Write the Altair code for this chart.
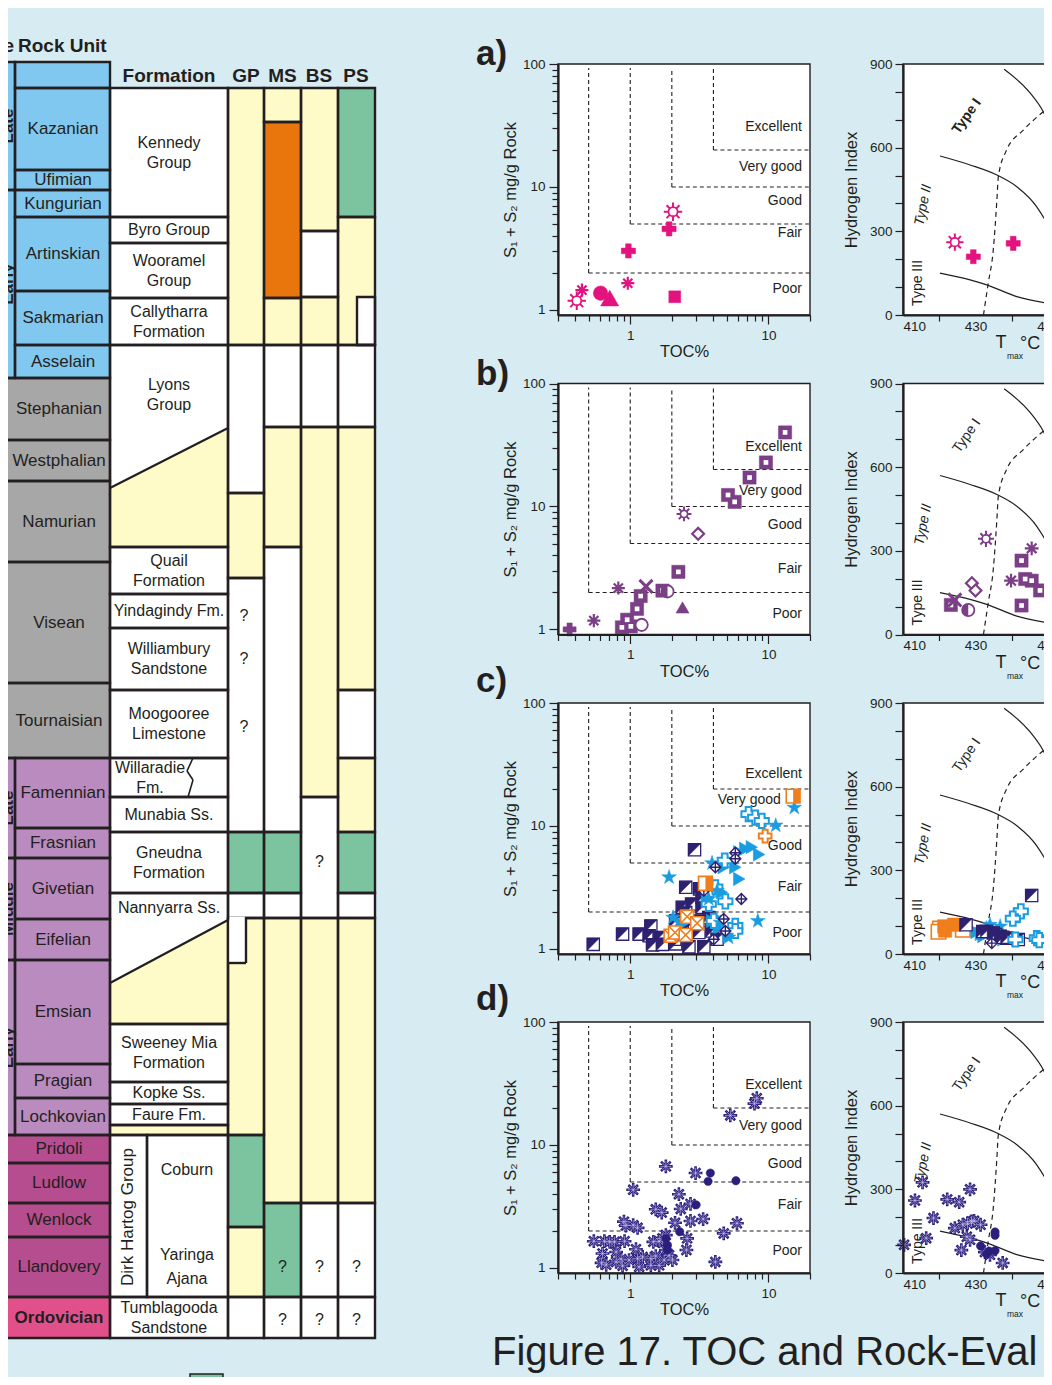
import altair as alt
import pandas as pd

W, H = 1036, 1369
BG = "#d6ecf2"
INK = "#231f20"
YEL, GRN, ORG, WHT = "#fffbc9", "#7cc49f", "#e8760c", "#ffffff"
PCOL = {"P": "#80c8ef", "C": "#a7a7a7", "D": "#b98bbf", "S": "#b64d8e", "O": "#e2508b"}
KCOL = {"Y": YEL, "G": GRN, "O": ORG, "W": WHT}
PINK, PURP, NAVY, SKY, ORNG, NAVYD = "#e2137e", "#7b3f86", "#2e2170", "#1a9de0", "#ef7e1c", "#2b1f7d"
FONT = "Liberation Sans, Arial, Helvetica, sans-serif"

# ---------------- stratigraphic column (row limits, figure units top->bottom) ----------------
EPOCH_NAMES = ["Late", "Early", "Late", "Middle", "Early"]
EPOCH_TOP = [62, 190, 758, 858, 960]
EPOCH_BOT = [190, 378, 858, 960, 1135]
EPOCH_PERIOD = "PPDDD"

STAGE_NAMES = ["", "Kazanian", "Ufimian", "Kungurian", "Artinskian", "Sakmarian", "Asselain",
               "Stephanian", "Westphalian", "Namurian", "Visean", "Tournaisian",
               "Famennian", "Frasnian", "Givetian", "Eifelian", "Emsian", "Pragian", "Lochkovian",
               "Pridoli", "Ludlow", "Wenlock", "Llandovery", "Ordovician"]
STAGE_TOP = [62, 88, 170, 190, 217, 291, 345, 378, 440, 481, 562, 683, 758, 828, 858, 919,
             960, 1064, 1098, 1135, 1163, 1203, 1237, 1297]
STAGE_BOT = [88, 170, 190, 217, 291, 345, 378, 440, 481, 562, 683, 758, 828, 858, 919, 960,
             1064, 1098, 1135, 1163, 1203, 1237, 1297, 1338]
STAGE_PERIOD = "PPPPPPPCCCCCDDDDDDDSSSSO"

FORM_NAMES = ["Kennedy\nGroup", "Byro Group", "Wooramel\nGroup", "Callytharra\nFormation",
              "Lyons\nGroup", "Quail\nFormation", "Yindagindy Fm.", "Williambury\nSandstone",
              "Moogooree\nLimestone", "Willaradie\nFm.", "Munabia Ss.", "Gneudna\nFormation",
              "Nannyarra Ss.", "Sweeney Mia\nFormation", "Kopke Ss.", "Faure Fm.", "",
              "Tumblagooda\nSandstone"]
FORM_TOP = [88, 217, 243, 298, 345, 547, 594, 628, 690, 758, 797, 832, 893, 1024, 1082, 1104, 1125, 1297]
FORM_BOT = [217, 243, 298, 345, 547, 594, 628, 690, 758, 797, 832, 893, 1024, 1082, 1104, 1125, 1135, 1338]
FORM_KIND = "WWWWYWWWWWWWYWWWYW"
DIRK_NAMES = ["Coburn", "Yaringa", "Ajana"]

GP_TOP = [88, 345, 493, 578, 832, 893, 918, 1135, 1227, 1297]
GP_BOT = [345, 493, 578, 832, 893, 918, 1135, 1227, 1297, 1338]
GP_KIND = "YWYWGWYGYW"
MS_TOP = [88, 122, 298, 345, 427, 547, 832, 893, 918, 1203, 1297]
MS_BOT = [122, 298, 345, 427, 547, 832, 893, 918, 1203, 1297, 1338]
MS_KIND = "YOYWYWGWYGW"
BS_TOP = [88, 231, 297, 345, 427, 797, 918, 1203, 1297]
BS_BOT = [231, 297, 345, 427, 797, 918, 1203, 1297, 1338]
BS_KIND = "YWYWYWYWW"
PS_TOP = [88, 217, 345, 427, 690, 758, 832, 893, 918, 1203, 1297]
PS_BOT = [217, 345, 427, 690, 758, 832, 893, 918, 1203, 1297, 1338]
PS_KIND = "GYWYWYGWYWW"
QMARK_COL = ["GP", "GP", "GP", "MS", "MS", "BS", "BS", "BS", "PS", "PS"]
QMARK_ROW = [616, 659, 727, 1267, 1320, 862, 1267, 1320, 1267, 1320]

# ---------------- Rock-Eval data ----------------
GRADES = ["Excellent", "Very good", "Good", "Fair", "Poor"]
GRADE_S = [[30.6, 14.5, 7.7, 4.2, 1.48], [30.6, 13.4, 7.06, 3.13, 1.34],
           [26.5, 16.4, 6.9, 3.17, 1.34], [30.8, 14.3, 7.06, 3.26, 1.38]]
GRADE_TOC = [[17.5] * 5, [17.5] * 5, [17.5, 12.3, 17.5, 17.5, 17.5], [17.5] * 5]
LIMIT_TOC = [0.5, 1, 2, 4]
LIMIT_S = [2, 5, 10, 20]

TYPE1_T = [437.9, 445.0, 448.7, 451.1, 454.0]
TYPE1_HI = [881, 797, 729, 663, 590]
TYPE2_T = [420.2, 428.5, 435.9, 441.4, 446.9, 450.6, 453.0]
TYPE2_HI = [570, 538, 502, 460, 388, 305, 230]
TYPE3_T = [420.2, 428.5, 433.1, 441.4, 451.1, 458.0]
TYPE3_HI = [150, 126, 108, 66, 40, 30]
MATUR_T = [432.2, 433.5, 434.9, 435.9, 436.3, 438.6, 443.2, 448.7, 451.1, 455.0]
MATUR_HI = [0, 113, 233, 412, 496, 592, 663, 729, 753, 790]

A_PLUS = [[1.91, 4.56], [0.97, 3.02]]
A_SUN = [[2.04, 6.3], [0.41, 1.19]]
A_AST = [[0.96, 1.65], [0.447, 1.45]]
A_SQ = [[2.1, 1.28]]
A_DOT = [[0.61, 1.37]]
A_TRI = [[0.71, 1.25]]
A_HI_PLUS = [[429.4, 209], [440.4, 257]]
A_HI_SUN = [[424.3, 261]]

B_SQ = [[13.2, 40], [9.6, 22.8], [7.3, 17.2], [5.1, 12.4], [5.7, 10.9], [2.23, 2.94], [1.71, 2.07],
        [1.19, 1.87], [1.12, 1.47], [0.95, 1.2], [0.87, 1.04], [1.01, 1.06]]
B_SUN = [[2.45, 8.7]]
B_DIA = [[3.1, 6.0]]
B_HALF = [[1.86, 2.04]]
B_X = [[1.30, 2.24]]
B_AST = [[0.82, 2.17], [0.545, 1.18]]
B_TRI = [[2.39, 1.51]]
B_RING = [[1.21, 1.09]]
B_PLUS = [[0.364, 1.0]]
B_HI_SQ = [[442.7, 265], [443.7, 199], [445.5, 193], [447.8, 158], [442.7, 104], [423.2, 106]]
B_HI_AST = [[445.5, 309], [439.8, 193]]
B_HI_SUN = [[432.9, 343]]
B_HI_DIA = [[429, 184], [430, 158]]
B_HI_X = [[424.3, 124]]
B_HI_HALF = [[428, 88]]

C_NSQ = [[2.92, 6.41], [2.52, 3.17], [3.17, 3.08], [2.78, 2.32], [3.31, 2.18], [2.52, 1.98],
         [2.13, 1.69], [3.14, 1.69], [3.7, 1.8], [2.66, 1.54], [1.41, 1.54], [0.88, 1.32],
         [1.16, 1.32], [1.37, 1.28], [1.62, 1.24], [2.38, 1.4], [3.14, 1.36], [3.91, 1.4],
         [4.25, 1.2], [1.45, 1.08], [1.71, 1.09], [2.66, 1.04], [3.41, 1.04], [2.13, 1.1],
         [2.38, 2.18], [3.31, 2.63], [2.1, 1.2], [0.54, 1.09]]
C_STAR = [[15.4, 14.1], [11.3, 10.1], [3.91, 4.99], [1.91, 3.83], [8.38, 1.69], [2.04, 1.8],
          [5.15, 1.24], [3.7, 2.55], [4.49, 1.64], [4.25, 2.98]]
C_TRI = [[6.8, 6.53], [7.59, 6.73], [8.57, 5.87], [6.15, 6.13], [4.75, 4.62], [5.76, 4.62],
         [6.15, 3.71], [4.25, 3.27], [4.61, 2.89], [3.6, 2.55], [3.91, 1.69], [4.61, 1.69],
         [4.37, 1.48], [5.15, 1.28], [2.38, 1.59]]
C_BCROSS = [[7.18, 12.5], [8.02, 11.7], [8.95, 11.0], [4.83, 5.24], [4.88, 2.44], [4.13, 3.17],
            [5.76, 1.54], [5.76, 1.4], [3.7, 2.32], [4.02, 1.69]]
C_NDIA = [[5.76, 6.06], [5.76, 5.41], [6.37, 2.55], [4.75, 1.75], [4.02, 1.2], [4.88, 1.4],
          [3.41, 2.98], [4.13, 4.62]]
C_OSQX = [[2.58, 1.83], [1.96, 1.28], [2.11, 1.36], [2.52, 1.3], [3.05, 1.62]]
C_OHALF = [[15.1, 17.5], [3.5, 3.42]]
C_OCROSS = [[9.47, 8.28]]
C_HI_OSQ = [[420.2, 91], [426.5, 87], [419.8, 80]]
C_HI_OFILL = [[421.6, 84], [421.4, 99], [424.1, 105]]
C_HI_NSQ = [[427.4, 105], [445.5, 210], [433.0, 81], [434.9, 75], [436.8, 64], [438.6, 57],
            [441.8, 52], [432.0, 81], [435.5, 70], [437.5, 60]]
C_HI_BCROSS = [[441.4, 139], [442.5, 153], [440.3, 127], [446.9, 57], [447.6, 50], [441.0, 52]]
C_HI_STAR = [[434.0, 105], [436.8, 99], [433.0, 92]]
C_HI_TRI = [[430.3, 79], [432.2, 64], [437.7, 52], [440.0, 57], [431.5, 72]]
C_HI_NDIA = [[434.5, 39]]

D_AST = [[8.24, 24.0], [7.93, 21.7], [5.3, 17.4], [1.81, 6.7], [2.97, 5.91], [1.05, 4.32],
         [2.25, 3.98], [2.73, 3.32], [1.53, 3.0], [1.69, 2.82], [2.32, 3.02], [2.73, 2.41],
         [3.37, 2.5], [2.11, 2.33], [5.92, 2.31], [4.75, 1.91], [0.9, 2.38], [0.93, 2.21],
         [1.05, 2.23], [1.13, 2.12], [0.545, 1.65], [0.65, 1.65], [0.71, 1.63], [0.77, 1.63],
         [0.91, 1.65], [1.47, 1.63], [1.62, 1.65], [1.71, 1.74], [1.81, 1.85], [2.58, 1.74],
         [2.55, 1.4], [4.13, 1.12], [0.63, 1.31], [0.62, 1.1], [0.67, 1.06], [0.79, 1.35],
         [0.86, 1.18], [0.88, 1.04], [1.1, 1.42], [1.13, 1.19], [1.16, 1.02], [1.23, 1.23],
         [1.41, 1.19], [1.53, 1.25], [1.62, 1.05], [1.76, 1.16], [1.91, 1.27], [2.02, 1.16],
         [0.98, 1.16], [0.79, 1.12], [1.81, 1.4], [1.41, 1.05]]
D_DOT = [[3.8, 5.91], [3.66, 5.06], [5.82, 5.12], [3.0, 3.26], [2.28, 1.97], [1.81, 1.74],
         [1.86, 1.53], [1.86, 1.4]]
D_HI_AST = [[410.3, 101], [413.3, 260], [415.4, 325], [416.4, 125], [418.4, 197], [422.2, 264],
            [425.5, 254], [428.5, 300], [424.3, 161], [426.5, 173], [427.8, 178], [428.9, 185],
            [429.6, 187], [431.4, 173], [427.6, 130], [428.5, 119], [426.1, 82], [437.5, 36],
            [432.6, 75], [434.0, 65]]
D_HI_DOT = [[431.4, 97], [433.1, 68], [433.8, 78], [435.4, 80], [435.4, 135], [435.4, 147]]

# ---------------- layout ----------------
ROW_OFF = [0, 319.5, 639, 958]
LETTER_Y = [65, 385, 692, 1010]
COLX = {"GP": (228, 264), "MS": (264, 301), "BS": (301, 338), "PS": (338, 375)}
LINE_H = 20

AST8 = "M-1,0L1,0M0,-1L0,1M-0.7,-0.7L0.7,0.7M-0.7,0.7L0.7,-0.7"
STAR5 = ("M0,-1L0.225,-0.31L0.951,-0.309L0.363,0.118L0.588,0.809L0,0.382L-0.588,0.809"
         "L-0.363,0.118L-0.951,-0.309L-0.225,-0.31Z")
XMARK = "M-1,-1L1,1M-1,1L1,-1"
SQX = "M-1,-1L1,-1L1,1L-1,1ZM-1,-1L1,1M-1,1L1,-1"
DIAX = "M0,-1L1,0L0,1L-1,0ZM0,-1L0,1M-1,0L1,0"
UL_TRI = "M-1,-1L1,-1L-1,1Z"
R_HALF = "M0,-1L1,-1L1,1L0,1Z"
L_HALFC = "M0,-1A1,1 0 0 0 0,1Z"


def TX():
    return alt.Scale(domain=[0, 1052], range=[-8, 1044], nice=False, zero=False)


def TY():
    return alt.Scale(domain=[0, 1385], range=[-8, 1377], nice=False, zero=False)


def tenc(ch, **extra):
    return ch.encode(x=alt.X("x:Q", scale=TX(), axis=None), y=alt.Y("y:Q", scale=TY(), axis=None), **extra)


def ttext(rows, **mk):
    props = dict(font=FONT, color=INK, fontSize=17, baseline="middle", align="center",
                 lineBreak="\n", lineHeight=LINE_H)
    props.update(mk)
    fixed = []
    for x, y, t in rows:
        n = t.count("\n")
        fixed.append((x, y - n * props["lineHeight"] / 2, t))
    df = pd.DataFrame(fixed, columns=["x", "y", "t"])
    return tenc(alt.Chart(df).mark_text(**props), text="t:N")


# ---- table cells ----
cells = []
for t, b, p in zip(EPOCH_TOP, EPOCH_BOT, EPOCH_PERIOD):
    cells.append((-16, 15, t, b, PCOL[p]))
for t, b, p in zip(STAGE_TOP, STAGE_BOT, STAGE_PERIOD):
    cells.append((15 if p in "PD" else -16, 110, t, b, PCOL[p]))
for t, b, k in zip(FORM_TOP, FORM_BOT, FORM_KIND):
    cells.append((110, 228, t, b, KCOL[k]))
cells.append((110, 147, 1135, 1297, WHT))
cells.append((147, 228, 1135, 1297, WHT))
for key, tops, bots, kinds in [("GP", GP_TOP, GP_BOT, GP_KIND), ("MS", MS_TOP, MS_BOT, MS_KIND),
                               ("BS", BS_TOP, BS_BOT, BS_KIND), ("PS", PS_TOP, PS_BOT, PS_KIND)]:
    x0, x1 = COLX[key]
    for t, b, k in zip(tops, bots, kinds):
        cells.append((x0, x1, t, b, KCOL[k]))
cells.append((357, 375, 297, 345, WHT))
cell_df = pd.DataFrame(cells, columns=["x0", "x1", "top", "bot", "fill"])


def rect_layer(df, **mk):
    return alt.Chart(df).mark_rect(**mk).encode(
        x=alt.X("x0:Q", scale=TX(), axis=None), x2="x1:Q",
        y=alt.Y("top:Q", scale=TY(), axis=None), y2="bot:Q",
        fill=alt.Fill("fill:N", scale=None))


fills = rect_layer(cell_df, strokeWidth=0)
outlines = alt.Chart(cell_df).mark_rect(fillOpacity=0, stroke=INK, strokeWidth=2.4).encode(
    x=alt.X("x0:Q", scale=TX(), axis=None), x2="x1:Q",
    y=alt.Y("top:Q", scale=TY(), axis=None), y2="bot:Q")

wedge_df = pd.DataFrame({"x": [110, 228, 110, 228], "y": [345, 345, 893, 893],
                         "y2": [488, 428, 983, 920], "g": ["L", "L", "N", "N"]})
wedges = tenc(alt.Chart(wedge_df).mark_area(color=WHT, opacity=1), y2="y2:Q", detail="g:N")

notch_df = pd.DataFrame([(229.4, 245, 916.6, 962, WHT)], columns=["x0", "x1", "top", "bot", "fill"])
notch = rect_layer(notch_df, strokeWidth=0)

seg_df = pd.DataFrame([(110, 488, 228, 428, 2.2), (110, 983, 228, 920, 2.2),
                       (193, 758, 187, 771, 1.6), (187, 771, 193, 780, 1.6), (193, 780, 188, 797, 1.6),
                       (246, 917, 246, 963, 2.4), (228, 963, 246, 963, 2.4)],
                      columns=["x", "y", "x2", "y2", "w"])
segs = tenc(alt.Chart(seg_df).mark_rule(color=INK), x2="x2:Q", y2="y2:Q",
            strokeWidth=alt.StrokeWidth("w:Q", scale=None))

stage_txt = [((63 if p in "PD" else 59), (t + b) / 2, n)
             for n, t, b, p in zip(STAGE_NAMES, STAGE_TOP, STAGE_BOT, STAGE_PERIOD) if p != "O" and n]
ordo_txt = [(59, (t + b) / 2, n) for n, t, b, p in zip(STAGE_NAMES, STAGE_TOP, STAGE_BOT, STAGE_PERIOD) if p == "O"]
epoch_txt = [(8, (t + b) / 2, n) for n, t, b in zip(EPOCH_NAMES, EPOCH_TOP, EPOCH_BOT)]
form_txt = []
for i, (n, t, b) in enumerate(zip(FORM_NAMES, FORM_TOP, FORM_BOT)):
    if not n:
        continue
    x, y = 169, (t + b) / 2
    if i == 4:
        y = 394.5
    if i == 9:
        x, y = 150, 778
    if i == 12:
        y = 908
    form_txt.append((x, y, n))
dirk_txt = [(187, y, n) for y, n in zip([1170, 1255, 1279], DIRK_NAMES)]
q_txt = [((COLX[c][0] + COLX[c][1]) / 2 - (2 if c == "GP" else 0), y, "?") for c, y in zip(QMARK_COL, QMARK_ROW)]

table_layers = [
    fills, wedges, outlines, notch, segs,
    ttext(stage_txt, fontSize=17),
    ttext(ordo_txt, fontSize=17, fontWeight="bold"),
    ttext(epoch_txt, fontSize=17, fontWeight="bold", angle=270),
    ttext(form_txt, fontSize=16),
    ttext(dirk_txt, fontSize=16),
    ttext([(128, 1217, "Dirk Hartog Group")], fontSize=17, angle=270),
    ttext(q_txt, fontSize=16),
    ttext([(14, 52, "Age")], fontSize=19, fontWeight="bold", align="right", baseline="alphabetic"),
    ttext([(18, 52, "Rock Unit")], fontSize=19, fontWeight="bold", align="left", baseline="alphabetic"),
    ttext([(169, 82, "Formation"), (246, 82, "GP"), (282.5, 82, "MS"), (319, 82, "BS"), (356, 82, "PS")],
          fontSize=19, fontWeight="bold", baseline="alphabetic"),
    ttext([(476, y, l) for y, l in zip(LETTER_Y, ["a)", "b)", "c)", "d)"])],
          fontSize=35, fontWeight="bold", align="left", baseline="alphabetic"),
    ttext([(1001, 343 + o, "T") for o in ROW_OFF], fontSize=18),
    ttext([(1007, 356 + o, "max") for o in ROW_OFF], fontSize=8.5, align="left"),
    ttext([(1020, 344 + o, "°C") for o in ROW_OFF], fontSize=18, align="left"),
    ttext([(492, 1365, "Figure 17. TOC and Rock-Eval")], fontSize=40, align="left", baseline="alphabetic"),
    rect_layer(pd.DataFrame([(190, 223, 1374, 1400, GRN)], columns=["x0", "x1", "top", "bot", "fill"]),
               stroke=INK, strokeWidth=1.5),
    ttext([(233, 1390, "Oil &")], fontSize=17, align="left", baseline="alphabetic"),
]
table = alt.layer(*table_layers)

# ---------------- panels ----------------
AXBASE = dict(domainColor=INK, tickColor=INK, labelColor=INK, titleColor=INK, labelFont=FONT,
              titleFont=FONT, labelFontSize=13.5, titleFontSize=16.5, titleFontWeight="normal",
              grid=False, zindex=2, tickWidth=1.2, domainWidth=2.2)


def ax(**kw):
    d = dict(AXBASE)
    d.update(kw)
    return alt.Axis(**d)


def pts(data, sx, sy, **mk):
    df = pd.DataFrame(data, columns=["x", "y"])
    props = {"opacity": 1}
    props.update(mk)
    return alt.Chart(df).mark_point(**props).encode(
        x=alt.X("x:Q", scale=sx, axis=None), y=alt.Y("y:Q", scale=sy, axis=None))


def filled(d, sx, sy, shape, c, size, stroke=None, sw=0.5):
    return [pts(d, sx, sy, shape=shape, filled=True, fill=c, stroke=stroke or c, strokeWidth=sw, size=size)]


def hollow(d, sx, sy, shape, c, size, sw=1.8):
    return [pts(d, sx, sy, shape=shape, filled=True, fill=WHT, stroke=c, strokeWidth=sw, size=size)]


def lines_only(d, sx, sy, shape, c, size, sw=2.0):
    return [pts(d, sx, sy, shape=shape, filled=False, stroke=c, strokeWidth=sw, size=size)]


def sun(d, sx, sy, c, size=340):
    return lines_only(d, sx, sy, AST8, c, size, 2.0) + hollow(d, sx, sy, "circle", c, size * 0.24, 1.7)


def sq_center(d, sx, sy, c, size=175):
    return filled(d, sx, sy, "square", c, size) + filled(d, sx, sy, "square", WHT, 22, stroke=WHT, sw=0)


def half_circle(d, sx, sy, c, size=150):
    return hollow(d, sx, sy, "circle", c, size, 1.8) + filled(d, sx, sy, L_HALFC, c, size, sw=0)


def navy_sq(d, sx, sy, size=150):
    return hollow(d, sx, sy, "square", NAVY, size, 1.3) + filled(d, sx, sy, UL_TRI, NAVY, size, sw=0.5)


def orange_half(d, sx, sy, size=190):
    return hollow(d, sx, sy, "square", ORNG, size, 1.6) + filled(d, sx, sy, R_HALF, ORNG, size, sw=0)


def d_ast(d, sx, sy, size=190):
    return lines_only(d, sx, sy, AST8, NAVYD, size, 2.6) + lines_only(d, sx, sy, AST8, "#cfc9f2", size * 0.6, 0.6)


def left_panel(i, point_layers):
    o = ROW_OFF[i]
    sx = alt.Scale(type="log", domain=[0.3, 20], range=[550, 802], nice=False)
    sy = alt.Scale(type="log", domain=[0.91, 100], range=[307 + o, 56 + o], nice=False)
    box = pd.DataFrame({"x": [0.3], "x2": [20], "y": [0.91], "y2": [100]})
    frame = alt.Chart(box).mark_rect(fill=WHT, stroke=INK, strokeWidth=1.4).encode(
        x=alt.X("x:Q", scale=sx, axis=ax(orient="bottom", offset=307 + o - H, values=[1, 10], tickSize=9,
                                         labelPadding=4, format="d", title="TOC%", titlePadding=2)),
        x2="x2:Q",
        y=alt.Y("y:Q", scale=sy, axis=ax(orient="left", offset=-550, values=[1, 10, 100], tickSize=9,
                                         labelPadding=4, format="d", title="S₁ + S₂ mg/g Rock", titlePadding=4)),
        y2="y2:Q")
    minor = alt.Chart(box).mark_point(opacity=0).encode(
        x=alt.X("x:Q", scale=sx, axis=ax(orient="bottom", offset=307 + o - H,
                                         values=[0.3, 0.4, 0.5, 0.6, 0.7, 0.8, 0.9, 2, 3, 4, 5, 6, 7, 8, 9, 20],
                                         tickSize=6, labels=False, domain=False, title=None)),
        y=alt.Y("y:Q", scale=sy, axis=ax(orient="left", offset=-550,
                                         values=[2, 3, 4, 5, 6, 7, 8, 9, 20, 30, 40, 50, 60, 70, 80, 90],
                                         tickSize=6, labels=False, domain=False, title=None)))
    vd = pd.DataFrame({"x": LIMIT_TOC, "y": LIMIT_S, "y2": [93] * 4})
    hd = pd.DataFrame({"x": LIMIT_TOC, "x2": [20] * 4, "y": LIMIT_S})
    vdash = alt.Chart(vd).mark_rule(color=INK, strokeWidth=1.1, strokeDash=[4, 3]).encode(
        x=alt.X("x:Q", scale=sx, axis=None), y=alt.Y("y:Q", scale=sy, axis=None), y2="y2:Q")
    hdash = alt.Chart(hd).mark_rule(color=INK, strokeWidth=1.1, strokeDash=[4, 3]).encode(
        x=alt.X("x:Q", scale=sx, axis=None), x2="x2:Q", y=alt.Y("y:Q", scale=sy, axis=None))
    gd = pd.DataFrame({"x": GRADE_TOC[i], "y": GRADE_S[i], "t": GRADES})
    grades = alt.Chart(gd).mark_text(font=FONT, fontSize=14, color=INK, align="right", baseline="middle").encode(
        x=alt.X("x:Q", scale=sx, axis=None), y=alt.Y("y:Q", scale=sy, axis=None), text="t:N")
    return alt.layer(frame, minor, vdash, hdash, grades, *point_layers(sx, sy)).resolve_axis(
        x="independent", y="independent")


def hi_panel(i, point_layers, bold1=False):
    o = ROW_OFF[i]
    sx = alt.Scale(domain=[410, 470], range=[895, 1112.5], nice=False, zero=False)
    sy = alt.Scale(domain=[0, 900], range=[307 + o, 56 + o], nice=False, zero=False)
    box = pd.DataFrame({"x": [410], "x2": [470], "y": [0], "y2": [900]})
    frame = alt.Chart(box).mark_rect(fill=WHT, stroke=INK, strokeWidth=1.4).encode(
        x=alt.X("x:Q", scale=sx, axis=ax(orient="bottom", offset=307 + o - H, values=[410, 430, 450, 470],
                                         tickSize=0, labelPadding=4, format="d", title=None)),
        x2="x2:Q",
        y=alt.Y("y:Q", scale=sy, axis=ax(orient="left", offset=-895, values=list(range(0, 901, 100)),
                                         labelExpr="datum.value % 300 == 0 ? datum.label : ''",
                                         tickSize=8, labelPadding=3, format="d",
                                         title="Hydrogen Index", titlePadding=10)),
        y2="y2:Q")
    minor = alt.Chart(box).mark_point(opacity=0).encode(
        x=alt.X("x:Q", scale=sx, axis=ax(orient="bottom", offset=307 + o - H, values=[420, 440, 460],
                                         tickSize=6, labels=False, domain=False, title=None)),
        y=alt.Y("y:Q", scale=sy, axis=None))

    def curve(ts, his, dash=None):
        df = pd.DataFrame({"x": ts, "y": his})
        mk = dict(color=INK, strokeWidth=1.2, interpolate="monotone")
        if dash:
            mk["strokeDash"] = dash
        return alt.Chart(df).mark_line(**mk).encode(
            x=alt.X("x:Q", scale=sx, axis=None), y=alt.Y("y:Q", scale=sy, axis=None))

    def label(x, y, t, **mk):
        df = pd.DataFrame({"x": [x], "y": [y], "t": [t]})
        props = dict(font=FONT, fontSize=14, color=INK, align="center", baseline="middle")
        props.update(mk)
        return alt.Chart(df).mark_text(**props).encode(
            x=alt.X("x:Q", scale=sx, axis=None), y=alt.Y("y:Q", scale=sy, axis=None), text="t:N")

    parts = [frame, minor,
             curve(TYPE1_T, TYPE1_HI), curve(TYPE2_T, TYPE2_HI), curve(TYPE3_T, TYPE3_HI),
             curve(MATUR_T, MATUR_HI, [5, 4]),
             label(427.6, 712, "Type I", angle=305, fontWeight="bold" if bold1 else "normal"),
             label(415.6, 394, "Type II", angle=281, fontStyle="italic"),
             label(414.2, 115, "Type III", angle=270)]
    return alt.layer(*parts, *point_layers(sx, sy)).resolve_axis(x="independent", y="independent")


def a_left(sx, sy):
    return (filled(A_PLUS, sx, sy, "cross", PINK, 200) + sun(A_SUN, sx, sy, PINK)
            + lines_only(A_AST, sx, sy, AST8, PINK, 170, 2.2) + filled(A_SQ, sx, sy, "square", PINK, 140)
            + filled(A_DOT, sx, sy, "circle", PINK, 210) + filled(A_TRI, sx, sy, "triangle-up", PINK, 330))


def a_right(sx, sy):
    return filled(A_HI_PLUS, sx, sy, "cross", PINK, 200) + sun(A_HI_SUN, sx, sy, PINK, 300)


def b_left(sx, sy):
    return (sq_center(B_SQ, sx, sy, PURP) + sun(B_SUN, sx, sy, PURP, 220)
            + hollow(B_DIA, sx, sy, "diamond", PURP, 140, 2.2) + half_circle(B_HALF, sx, sy, PURP)
            + lines_only(B_X, sx, sy, XMARK, PURP, 170, 3.0) + lines_only(B_AST, sx, sy, AST8, PURP, 170, 2.2)
            + filled(B_TRI, sx, sy, "triangle-up", PURP, 170) + hollow(B_RING, sx, sy, "circle", PURP, 150, 1.8)
            + filled(B_PLUS, sx, sy, "cross", PURP, 170))


def b_right(sx, sy):
    return (sq_center(B_HI_SQ, sx, sy, PURP) + lines_only(B_HI_AST, sx, sy, AST8, PURP, 190, 2.2)
            + sun(B_HI_SUN, sx, sy, PURP, 260) + hollow(B_HI_DIA, sx, sy, "diamond", PURP, 140, 2.2)
            + lines_only(B_HI_X, sx, sy, XMARK, PURP, 170, 3.0) + half_circle(B_HI_HALF, sx, sy, PURP))


def c_left(sx, sy):
    return (navy_sq(C_NSQ, sx, sy) + filled(C_TRI, sx, sy, "triangle-right", SKY, 180)
            + hollow(C_BCROSS, sx, sy, "cross", SKY, 200, 2.0) + filled(C_STAR, sx, sy, STAR5, SKY, 240)
            + hollow(C_NDIA, sx, sy, DIAX, NAVY, 120, 1.4) + hollow(C_OSQX, sx, sy, SQX, ORNG, 170, 1.6)
            + orange_half(C_OHALF, sx, sy) + hollow(C_OCROSS, sx, sy, "cross", ORNG, 160, 2.0))


def c_right(sx, sy):
    return (hollow(C_HI_OSQ, sx, sy, "square", ORNG, 210, 1.6) + filled(C_HI_OFILL, sx, sy, "square", ORNG, 180)
            + filled(C_HI_TRI, sx, sy, "triangle-right", SKY, 180) + filled(C_HI_STAR, sx, sy, STAR5, SKY, 240)
            + navy_sq(C_HI_NSQ, sx, sy) + hollow(C_HI_BCROSS, sx, sy, "cross", SKY, 200, 2.0)
            + hollow(C_HI_NDIA, sx, sy, DIAX, NAVY, 120, 1.4))


def d_left(sx, sy):
    return d_ast(D_AST, sx, sy) + filled(D_DOT, sx, sy, "circle", NAVYD, 70)


def d_right(sx, sy):
    return d_ast(D_HI_AST, sx, sy) + filled(D_HI_DOT, sx, sy, "circle", NAVYD, 70)


panels = [left_panel(0, a_left), hi_panel(0, a_right, bold1=True),
          left_panel(1, b_left), hi_panel(1, b_right),
          left_panel(2, c_left), hi_panel(2, c_right),
          left_panel(3, d_left), hi_panel(3, d_right)]

chart = alt.layer(table, *panels).resolve_scale(x="independent", y="independent").properties(
    width=W, height=H, autosize=alt.AutoSizeParams(type="none"), padding=0, background=BG
).configure_view(strokeWidth=0)

chart.save("out.html", embed_options={"renderer": "svg", "actions": False})
